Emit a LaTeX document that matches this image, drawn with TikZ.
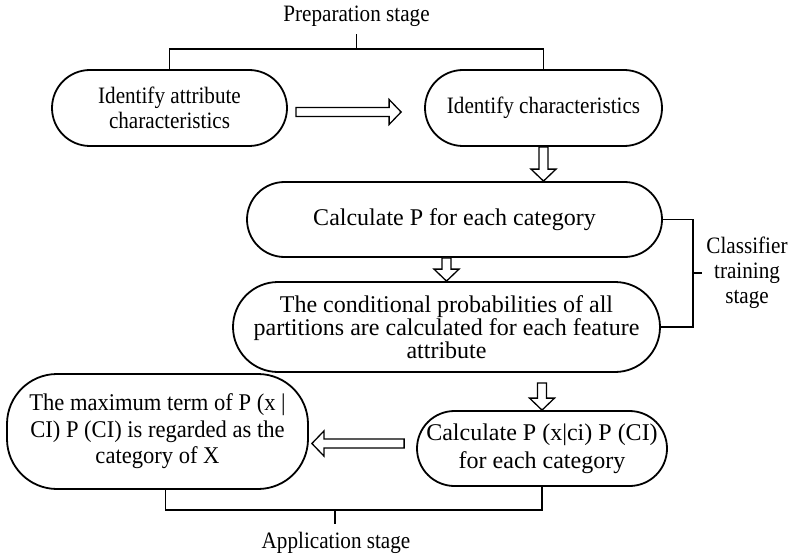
\documentclass[tikz,border=0pt]{standalone}
\usepackage{fontspec}
\setmainfont{Liberation Serif}
\newfontfamily\narrowfont{Liberation Serif}[FakeStretch=0.9]
\newfontfamily\slimfont{Liberation Serif}[FakeStretch=0.94]
\usetikzlibrary{calc}

\begin{document}
\begin{tikzpicture}[x=1pt, y=-1pt,
    stage/.style={draw, line width=1.8pt, inner sep=0pt, align=center},
    big/.style={font=\fontsize{24}{#1}\selectfont}, big/.default=26,
    slim/.style={font=\slimfont\fontsize{24}{#1}\selectfont}, slim/.default=26.5,
    small/.style={font=\narrowfont\fontsize{23.5}{#1}\selectfont}, small/.default=25,
    bracket/.style={line width=1.6pt},
    fat/.style={line width=1.3pt, fill=white, to path={
        let \p1=($(\tikztotarget)!12pt!(\tikztostart)$) in
        ($(\tikztostart)!4.5pt!90:(\tikztotarget)$) -- ($(\p1)!4.5pt!90:(\tikztotarget)$)
        -- ($(\p1)!12.5pt!90:(\tikztotarget)$) -- (\tikztotarget)
        -- ($(\p1)!12.5pt!-90:(\tikztotarget)$) -- ($(\p1)!4.5pt!-90:(\tikztotarget)$)
        -- ($(\tikztostart)!4.5pt!-90:(\tikztotarget)$) -- cycle}}]
    \useasboundingbox (0,0) rectangle (791,556);

    % PREPARATION
    \node[stage, small, minimum width=235pt, minimum height=76pt, rounded corners=38pt]
        (b1) at (169.5,108) {Identify attribute\\characteristics};
    \node[stage, small, minimum width=237pt, minimum height=76pt, rounded corners=38pt]
        (b2) at (543.5,108) {Identify characteristics};
    \coordinate (pm) at ($(b1.north)!0.5!(b2.north)+(0,-20)$);
    \node[small] (prep) at ($(pm)+(0,-33)$) {Preparation stage};
    \draw[bracket] (b1.north) -- ++(0,-20) -| (b2.north);
    \draw[bracket] (pm) -- ++(0,-15);
    \draw[fat] ($(b1.east)+(8,4)$) to ($(b2.west)+(-23,4)$);

    % TRAINING
    \node[stage, big, minimum width=415pt, minimum height=75pt, rounded corners=37.5pt]
        (b3) at (454.5,219.5) {Calculate P for each category};
    \node[stage, big=21, minimum width=427pt, minimum height=90pt, rounded corners=45pt]
        (b4) at (446.5,327) {The conditional probabilities of all\\partitions are calculated for each feature\\attribute};
    \draw[fat] (b2.south) to (b2.south |- b3.north);
    \draw[fat] (b3.south -| b4.north) to (b4.north);
    \draw[bracket] (b3.east) -- ++(30,0) |- (b4.east);
    \coordinate (tm) at ($(b3.east)!0.5!(b4.east)+(30,0)$);
    \draw[bracket] (tm) -- ++(10,0);
    \node[small, align=center] (train) at (747,273) {Classifier\\training\\stage};

    % APPLICATION
    \node[stage, slim, minimum width=301pt, minimum height=115pt, rounded corners=50pt]
        (b5) at (157.5,431.5) {The maximum term of P (x |\\CI) P (CI) is regarded as the\\category of X};
    \node[stage, big=28, minimum width=250pt, minimum height=75pt, rounded corners=37.5pt]
        (b6) at (542,448.5) {Calculate P (x|ci) P (CI)\\for each category};
    \draw[fat] ([yshift=-10pt]b4.south -| b6.north) to (b6.north);
    \draw[fat] ($(b6.west)+(-12,-5)$) to ($(b5.east |- b6.west)+(3,-5)$);
    \draw[bracket] ([xshift=8pt]b5.south) -- ++(0,20) -| (b6.south);
    \coordinate (am) at (335,509);
    \draw[bracket] (am) -- ++(0,15);
    \node[small] (appl) at (336,543) {Application stage};
\end{tikzpicture}
\end{document}
